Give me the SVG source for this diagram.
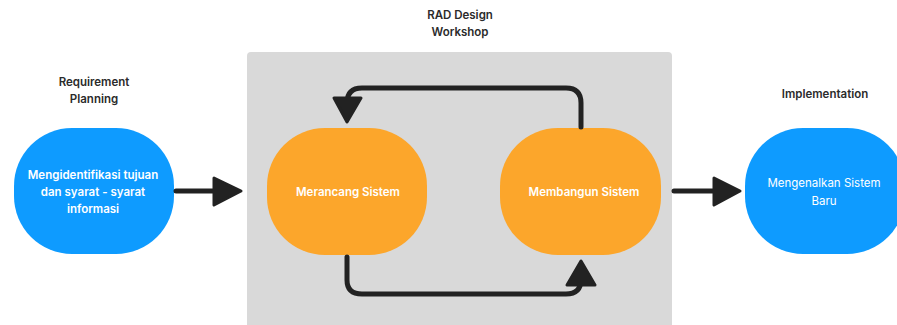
<svg xmlns="http://www.w3.org/2000/svg" width="897" height="325" viewBox="0 0 897 325">
  <style>
    .label { font-family: Inter, "Noto Sans", sans-serif; font-size: 11.5px; font-weight: 600; fill: #2b2b2b; text-anchor: middle; }
    .node-text { font-family: Inter, "Noto Sans", sans-serif; font-size: 11.5px; font-weight: 600; fill: #ffffff; text-anchor: middle; }
    .node-text.light { font-weight: 400; }
    .blue { fill: #0e9bff; }
    .orange { fill: #fca62b; }
    .wire { fill: none; stroke: #222222; stroke-width: 5; stroke-linecap: round; stroke-linejoin: round; }
    .head { fill: #222222; stroke: #222222; stroke-width: 3; stroke-linejoin: round; }
  </style>
  <rect width="897" height="325" fill="#ffffff"/>

  <!-- workshop panel -->
  <g id="workshop">
    <rect x="247" y="52" width="425" height="290" rx="4" fill="#d9d9d9"/>
    <text class="label" x="460" y="19">RAD Design</text>
    <text class="label" x="460" y="36">Workshop</text>
  </g>

  <g id="requirement">
    <text class="label" x="94" y="86">Requirement</text>
    <text class="label" x="94" y="103">Planning</text>
    <rect class="blue" x="14" y="128" width="160" height="126" rx="58"/>
    <text class="node-text" x="93" y="179">Mengidentifikasi tujuan</text>
    <text class="node-text" x="93" y="196">dan syarat - syarat</text>
    <text class="node-text" x="93" y="213">informasi</text>
  </g>

  <g id="merancang">
    <rect class="orange" x="267" y="128" width="160" height="127" rx="58"/>
    <text class="node-text" x="348" y="196">Merancang Sistem</text>
  </g>

  <g id="membangun">
    <rect class="orange" x="500" y="128" width="161" height="127" rx="58"/>
    <text class="node-text" x="584" y="196">Membangun Sistem</text>
  </g>

  <g id="implementation">
    <text class="label" x="825" y="98">Implementation</text>
    <rect class="blue" x="745" y="128" width="160" height="126" rx="58"/>
    <text class="node-text light" x="824" y="187">Mengenalkan Sistem</text>
    <text class="node-text light" x="824" y="205">Baru</text>
  </g>

  <g id="connectors">
    <!-- planning to workshop -->
    <path class="wire" d="M176 191 H214"/>
    <polygon class="head" points="214,178 241,191 214,205"/>
    <!-- build back to design -->
    <path class="wire" d="M581 127 V103 Q581 88 566 88 H362 Q347 88 347 103 V100"/>
    <polygon class="head" points="334,98 361,98 347,122"/>
    <!-- design to build -->
    <path class="wire" d="M347 257 V280 Q347 294 362 294 H566 Q581 294 581 279 V284"/>
    <polygon class="head" points="567,285 595,285 581,261"/>
    <!-- workshop to implementation -->
    <path class="wire" d="M674 191 H714"/>
    <polygon class="head" points="714,178 740,191 714,205"/>
  </g>
</svg>
